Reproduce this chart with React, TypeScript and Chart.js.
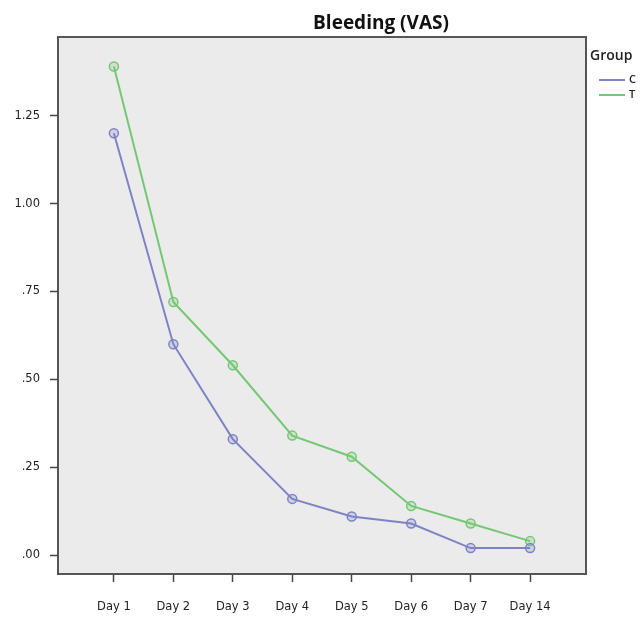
import React, { useEffect, useRef } from "react";
import { Chart, registerables } from "chart.js";

Chart.register(...registerables);

const dayLabels = ["Day 1", "Day 2", "Day 3", "Day 4", "Day 5", "Day 6", "Day 7", "Day 14"];
const groupC = [1.2, 0.6, 0.33, 0.16, 0.11, 0.09, 0.02, 0.02];
const groupT = [1.39, 0.72, 0.54, 0.34, 0.28, 0.14, 0.09, 0.04];
const yTickValues = [0, 0.25, 0.5, 0.75, 1.0, 1.25];
const yTickLabels = [".00", ".25", ".50", ".75", "1.00", "1.25"];
const seriesNames = ["C", "T"];
const titleText = "Bleeding (VAS)";
const legendTitle = "Group";

const BLUE = "#7e82c6";
const GREEN = "#74c874";

const framePlugin = {
  id: "frameAndText",
  beforeDraw(chart: any) {
    const { ctx, chartArea } = chart;
    ctx.save();
    ctx.fillStyle = "#ffffff";
    ctx.fillRect(0, 0, chart.width, chart.height);
    ctx.fillStyle = "#ebebeb";
    ctx.fillRect(chartArea.left, chartArea.top, chartArea.right - chartArea.left, chartArea.bottom - chartArea.top);
    ctx.restore();
  },
  afterDraw(chart: any) {
    const { ctx, chartArea } = chart;
    ctx.save();
    ctx.strokeStyle = "#555555";
    ctx.lineWidth = 2;
    ctx.strokeRect(chartArea.left, chartArea.top, chartArea.right - chartArea.left, chartArea.bottom - chartArea.top);
    // title
    ctx.fillStyle = "#111111";
    ctx.font = "bold 19px 'Open Sans'";
    ctx.textAlign = "center";
    ctx.textBaseline = "alphabetic";
    ctx.fillText(titleText, 381, 29);
    // legend
    ctx.textAlign = "left";
    ctx.font = "600 14px 'Open Sans'";
    ctx.fillStyle = "#222222";
    ctx.fillText(legendTitle, 590, 60);
    const colors = [BLUE, GREEN];
    const ys = [80, 95];
    ctx.font = "600 11px 'Open Sans'";
    seriesNames.forEach((name, i) => {
      ctx.strokeStyle = colors[i];
      ctx.lineWidth = 2;
      ctx.beginPath();
      ctx.moveTo(599, ys[i]);
      ctx.lineTo(625, ys[i]);
      ctx.stroke();
      ctx.fillStyle = "#222222";
      ctx.textBaseline = "middle";
      ctx.fillText(name, 629, ys[i]);
    });
    ctx.restore();
  },
};

export default function App() {
  const ref = useRef<HTMLCanvasElement | null>(null);

  useEffect(() => {
    document.body.style.margin = "0";
    const canvas = ref.current;
    if (!canvas) return;
    const mk = (vals: number[]) => vals.map((v, i) => ({ x: i, y: v }));
    const chart = new Chart(canvas, {
      type: "line",
      data: {
        datasets: [
          {
            label: seriesNames[0],
            data: mk(groupC),
            borderColor: BLUE,
            backgroundColor: "rgba(126,130,198,0.25)",
            borderWidth: 2,
            pointRadius: 4.5,
            pointBorderWidth: 1.5,
            pointBorderColor: BLUE,
            pointBackgroundColor: "rgba(126,130,198,0.25)",
            tension: 0,
          },
          {
            label: seriesNames[1],
            data: mk(groupT),
            borderColor: GREEN,
            backgroundColor: "rgba(116,200,116,0.25)",
            borderWidth: 2,
            pointRadius: 4.5,
            pointBorderWidth: 1.5,
            pointBorderColor: GREEN,
            pointBackgroundColor: "rgba(116,200,116,0.25)",
            tension: 0,
          },
        ],
      },
      options: {
        animation: false,
        responsive: false,
        devicePixelRatio: 1,
        layout: { padding: { top: 37, right: 57, left: 0, bottom: 0 } },
        plugins: { legend: { display: false }, title: { display: false }, tooltip: { enabled: false } },
        scales: {
          x: {
            type: "linear",
            min: -0.94,
            max: 7.94,
            afterFit: (s: any) => {
              s.height = 44;
            },
            afterBuildTicks: (s: any) => {
              s.ticks = dayLabels.map((_, i) => ({ value: i }));
            },
            ticks: {
              autoSkip: false,
              maxRotation: 0,
              padding: 18,
              color: "#222222",
              font: { family: "'DejaVu Sans'", size: 11.5 },
              callback: (v: any) => dayLabels[Math.round(Number(v))] ?? "",
            },
            grid: { drawOnChartArea: false, drawTicks: true, tickLength: 8, tickColor: "#444444", tickWidth: 1.5 },
            border: { display: false },
          },
          y: {
            type: "linear",
            min: -0.0536,
            max: 1.4737,
            afterFit: (s: any) => {
              s.width = 58;
            },
            afterBuildTicks: (s: any) => {
              s.ticks = yTickValues.map((v) => ({ value: v }));
            },
            ticks: {
              padding: 10,
              color: "#222222",
              font: { family: "'DejaVu Sans'", size: 11.5 },
              callback: (v: any) => {
                const idx = yTickValues.findIndex((t) => Math.abs(t - Number(v)) < 1e-6);
                return idx >= 0 ? yTickLabels[idx] : "";
              },
            },
            grid: { drawOnChartArea: false, drawTicks: true, tickLength: 8, tickColor: "#444444", tickWidth: 1.5 },
            border: { display: false },
          },
        },
      },
      plugins: [framePlugin],
    } as any);
    return () => chart.destroy();
  }, []);

  return <canvas ref={ref} width={643} height={618} style={{ display: "block", width: 643, height: 618 }} />;
}
